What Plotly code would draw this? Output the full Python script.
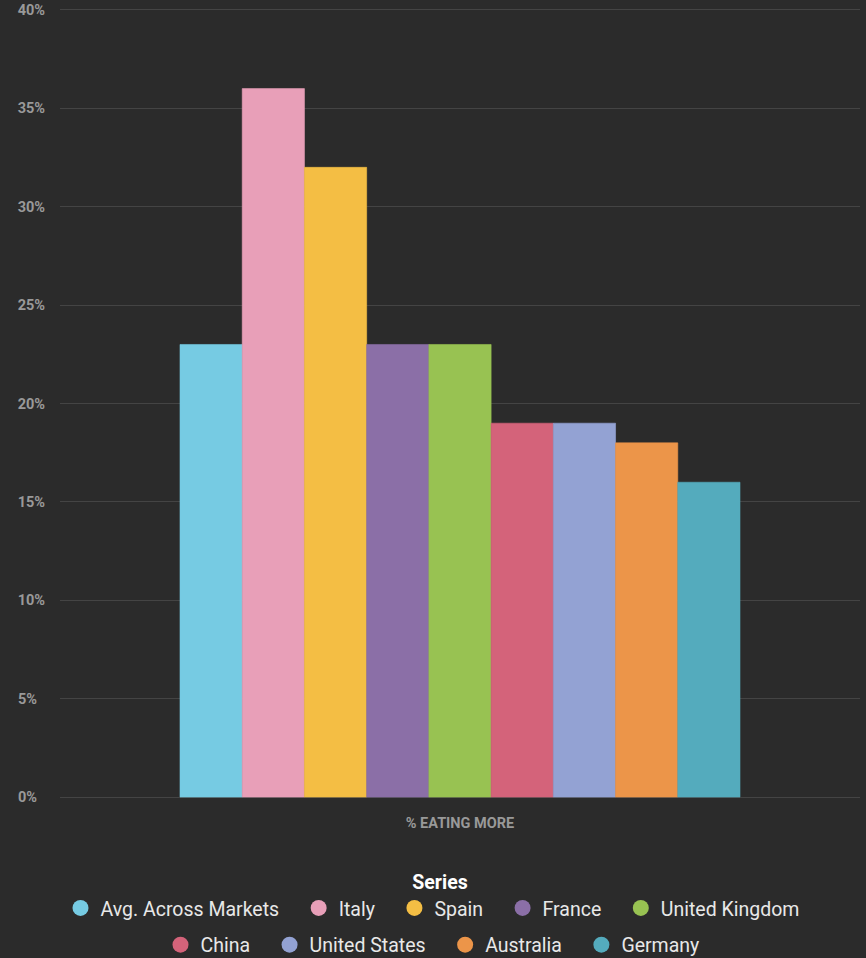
import plotly.graph_objects as go

category = ["% EATING MORE"]
series = ["Avg. Across Markets", "Italy", "Spain", "France", "United Kingdom",
          "China", "United States", "Australia", "Germany"]
values = [23, 36, 32, 23, 23, 19, 19, 18, 16]
colors = ["#76cbe3", "#e89fb8", "#f4be44", "#8b6fa7", "#98c252",
          "#d4637a", "#93a2d3", "#ec9549", "#54abbd"]
legend_row = ["legend", "legend", "legend", "legend", "legend",
              "legend2", "legend2", "legend2", "legend2"]
tick_vals = [0, 5, 10, 15, 20, 25, 30, 35, 40]
tick_text = [f"{v}%" + ("\u2007" if v < 10 else "") for v in tick_vals]

BG = "#2b2b2b"
PAD = "\u00a0\u00a0\u00a0"
fig = go.Figure()
for name, v, c in zip(series, values, colors):
    fig.add_trace(go.Bar(x=category, y=[v], name=name,
                         marker=dict(color=c, line=dict(width=0.6, color=c)),
                         showlegend=False, hoverinfo="name+y"))
for name, c, lg in zip(series, colors, legend_row):
    fig.add_trace(go.Scatter(x=[None], y=[None], mode="markers", name=name + PAD,
                             legend=lg, hoverinfo="skip",
                             marker=dict(symbol="circle", size=16, color=c)))

legend_font = dict(family="Roboto", size=19.5, color="#e8e8e8")
fig.update_layout(
    width=866, height=958,
    paper_bgcolor=BG, plot_bgcolor=BG,
    margin=dict(l=60, r=6, t=4, b=155, autoexpand=False),
    barmode="group", bargap=0.3, bargroupgap=0,
    font=dict(family="Roboto", color="#999999"),
    showlegend=True,
    legend=dict(
        orientation="h", x=0.475, xanchor="center",
        yref="container", y=0.0653, yanchor="middle",
        title=dict(text="<b>Series</b>", side="top center",
                   font=dict(family="Roboto", size=19.5, color="#ffffff")),
        font=legend_font, itemsizing="trace",
    ),
    legend2=dict(
        orientation="h", x=0.475, xanchor="center",
        yref="container", y=0.0136, yanchor="middle",
        font=legend_font, itemsizing="trace",
    ),
    xaxis=dict(
        showgrid=False, zeroline=False, showline=False,
        tickfont=dict(family="Roboto", size=14.5, color="#999999", weight="bold"),
        ticks="outside", ticklen=7, tickcolor=BG,
    ),
    yaxis=dict(
        range=[-0.3, 40.3], tickvals=tick_vals, ticktext=tick_text,
        showgrid=True, gridcolor="#444444", gridwidth=1,
        zeroline=False, showline=False,
        tickfont=dict(family="Roboto", size=14.5, color="#999999", weight="bold"),
        ticks="outside", ticklen=11, tickcolor=BG,
    ),
)
fig.write_html("out.html", config={"displayModeBar": False},
               post_script="document.body.style.margin='0';")
